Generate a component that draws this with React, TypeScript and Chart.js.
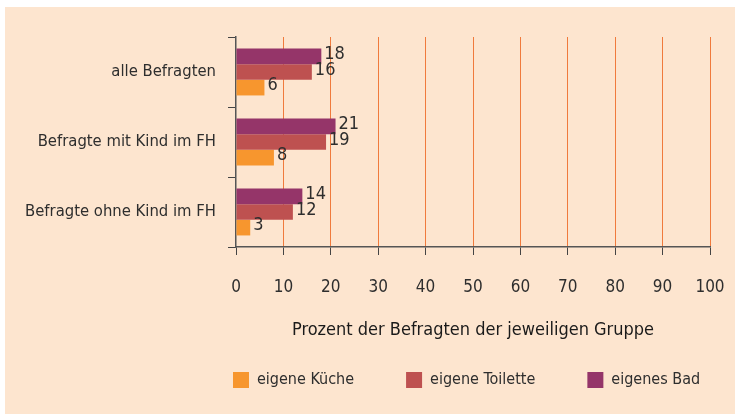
import React, { useEffect, useRef } from "react";
import { Chart, registerables } from "chart.js";

Chart.register(...registerables);

const categories = ["alle Befragten", "Befragte mit Kind im FH", "Befragte ohne Kind im FH"];
const seriesLabels = ["eigene Küche", "eigene Toilette", "eigenes Bad"];
const kueche = [6, 8, 3];
const toilette = [16, 19, 12];
const bad = [18, 21, 14];
const xTicks = [0, 10, 20, 30, 40, 50, 60, 70, 80, 90, 100];
const axisTitle = "Prozent der Befragten der jeweiligen Gruppe";

const COLORS = ["#F7962E", "#BE5150", "#953569"];
const FONT = "'DejaVu Sans Condensed', 'Liberation Sans Narrow', sans-serif";
const TEXT = "#2e2e2e";

const bgPlugin = {
  id: "bg",
  beforeDraw(chart: any) {
    const { ctx, width, height } = chart;
    ctx.save();
    ctx.fillStyle = "#ffffff";
    ctx.fillRect(0, 0, width, height);
    ctx.fillStyle = "#FDE5CF";
    ctx.fillRect(5, 7, width - 5, height - 7);
    ctx.restore();
  },
};

const valueLabels = {
  id: "valueLabels",
  afterDatasetsDraw(chart: any) {
    const { ctx } = chart;
    ctx.save();
    ctx.font = `18px ${FONT}`;
    ctx.fillStyle = TEXT;
    ctx.textAlign = "left";
    ctx.textBaseline = "middle";
    chart.data.datasets.forEach((ds: any, i: number) => {
      const meta = chart.getDatasetMeta(i);
      meta.data.forEach((el: any, j: number) => {
        ctx.fillText(String(ds.data[j]), el.x + 3, el.y - 2);
      });
    });
    ctx.restore();
  },
};

const customLegend = {
  id: "customLegend",
  afterDraw(chart: any) {
    const { ctx, chartArea } = chart;
    ctx.save();
    ctx.font = `16px ${FONT}`;
    ctx.textBaseline = "middle";
    ctx.textAlign = "left";
    const y = 380;
    const box = 16;
    let x = chartArea.left - 3;
    const order = [2, 1, 0];
    order.forEach((di) => {
      const ds = chart.data.datasets[di];
      ctx.fillStyle = ds.backgroundColor;
      ctx.fillRect(x, y - box / 2, box, box);
      x += box + 8;
      ctx.fillStyle = TEXT;
      ctx.fillText(ds.label, x, y);
      x += ctx.measureText(ds.label).width + 52;
    });
    ctx.restore();
  },
};

export default function App() {
  const ref = useRef<HTMLCanvasElement>(null);
  useEffect(() => {
    document.body.style.margin = "0";
    const chart = new Chart(ref.current!, {
      type: "bar",
      data: {
        labels: categories,
        datasets: [
          { label: seriesLabels[2], data: bad, backgroundColor: COLORS[2] },
          { label: seriesLabels[1], data: toilette, backgroundColor: COLORS[1] },
          { label: seriesLabels[0], data: kueche, backgroundColor: COLORS[0] },
        ],
      },
      options: {
        indexAxis: "y",
        animation: false,
        responsive: false,
        events: [],
        layout: { padding: { top: 37, right: 25, left: 0, bottom: 0 } },
        datasets: { bar: { categoryPercentage: 0.67, barPercentage: 1.0 } },
        plugins: { legend: { display: false }, tooltip: { enabled: false } },
        scales: {
          x: {
            min: 0,
            max: 100,
            afterBuildTicks(scale: any) {
              scale.ticks = xTicks.map((v) => ({ value: v }));
            },
            afterFit(scale: any) {
              scale.height = 167;
              scale.paddingLeft = 0;
              scale.paddingRight = 0;
            },
            border: { display: true, color: "#555555", width: 1.5 },
            grid: {
              color: (c: any) => (c.index === 0 ? "rgba(0,0,0,0)" : "#F07A3C"),
              tickColor: "#444444",
              tickLength: 8,
              lineWidth: 1,
            },
            ticks: {
              color: TEXT,
              font: { family: FONT, size: 17 },
              padding: 22,
              maxRotation: 0,
            },
            title: {
              display: true,
              text: axisTitle,
              color: "#1a1a1a",
              font: { family: FONT, size: 18, weight: "normal" },
              padding: { top: 0, bottom: 73 },
            },
          },
          y: {
            afterFit(scale: any) {
              scale.width = 236;
              scale.paddingTop = 0;
              scale.paddingBottom = 0;
            },
            border: { display: true, color: "#555555", width: 1.5 },
            grid: {
              drawOnChartArea: false,
              drawTicks: true,
              tickLength: 8,
              color: "#444444",
              offset: true,
            },
            ticks: {
              color: TEXT,
              font: { family: FONT, size: 16.5 },
              padding: 12,
            },
          },
        },
      },
      plugins: [bgPlugin, valueLabels, customLegend],
    });
    return () => chart.destroy();
  }, []);
  return <canvas ref={ref} width={735} height={414} style={{ display: "block" }} />;
}
